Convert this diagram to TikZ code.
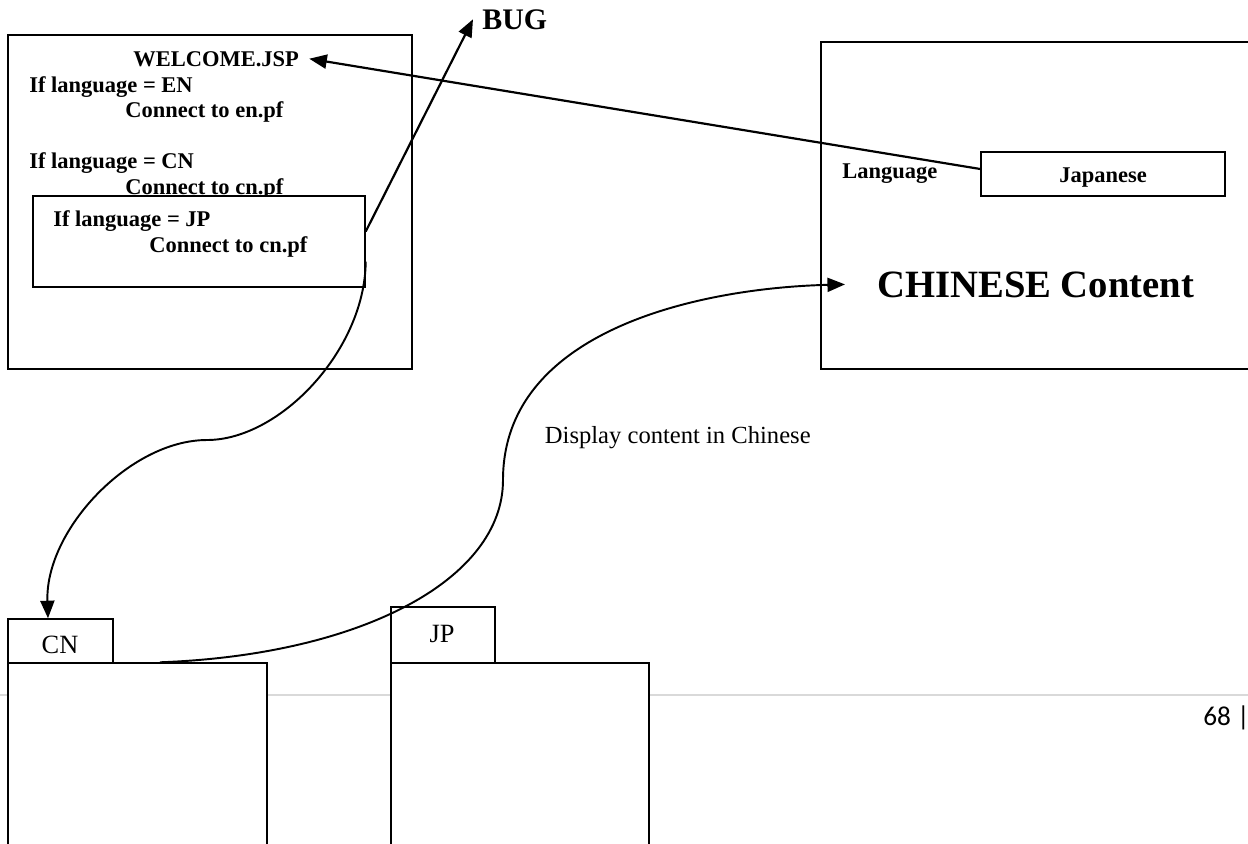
\documentclass[tikz,border=0pt]{standalone}
\usepackage{fontspec}
\setmainfont{Liberation Serif}
\newfontfamily\pagenofont{Carlito}
\usetikzlibrary{arrows.meta}

\tikzset{
  box/.style={draw, line width=0.85pt, fill=white, inner sep=0pt},
  code/.style={font=\fontsize{12.8}{15}\selectfont\bfseries, inner sep=0pt},
  tabtext/.style={font=\fontsize{14}{17}\selectfont, inner sep=0pt},
  conn/.style={line width=1.25pt, -{Triangle[length=10pt,width=8pt]}},
}

\begin{document}
\begin{tikzpicture}[x=0.02cm, y=-0.02cm]
\useasboundingbox (0,0) rectangle (1248,843);
\draw[black!15, line width=1.2pt] (0,695) -- (1248,695);
\node[font=\pagenofont\fontsize{15.5}{18}\selectfont, anchor=base east, inner sep=0pt] (pageno) at (1250,725) {68 |};
\node[box, minimum width=8.08cm, minimum height=6.68cm] (welcome) at (210,202) {};
\node[code, anchor=base west] (title) at (133,66) {WELCOME.JSP};
\node[code, anchor=base west] (ifen) at (29,92) {If language = EN};
\node[code, anchor=base west] (toen) at (125,117) {Connect to en.pf};
\node[code, anchor=base west] (ifcn) at (29,168) {If language = CN};
\node[code, anchor=base west] (tocn) at (125,194) {Connect to cn.pf};
\node[box, minimum width=6.64cm, minimum height=1.82cm] (jpcase) at (199,241.5) {};
\node[code, anchor=base west] (ifjp) at (53,226) {If language = JP};
\node[code, anchor=base west] (tojp) at (149,252) {Connect to cn.pf};
\node[box, minimum width=8.8cm, minimum height=6.54cm] (page) at (1041,205.5) {};
\node[code, anchor=base west] (lang) at (842,178) {Language};
\node[box, minimum width=4.88cm, minimum height=0.88cm] (langbox) at (1103,174) {};
\node[code, anchor=base] (japanese) at (1103,182) {Japanese};
\node[code, font=\fontsize{22}{26}\selectfont\bfseries, anchor=base west] (content) at (877,297) {CHINESE Content};
\node[box, minimum width=2.1cm, minimum height=0.88cm] (cntab) at (60.5,641) {};
\node[box, minimum width=5.18cm, minimum height=4.14cm] (cnpage) at (137.5,766.5) {};
\node[tabtext, font=\fontsize{15}{18}\selectfont, anchor=base] (cnlabel) at (60,653) {CN};
\node[box, minimum width=2.08cm, minimum height=1.12cm] (jptab) at (443,635) {};
\node[box, minimum width=5.16cm, minimum height=4.14cm] (jppage) at (520,766.5) {};
\node[tabtext, font=\fontsize{15}{18}\selectfont, anchor=base] (jplabel) at (442,642) {JP};
\node[code, font=\fontsize{17}{20}\selectfont\bfseries, anchor=base west] (bug) at (482,29) {BUG};
\node[tabtext, anchor=base east] (display) at (811,443) {Display content in Chinese};
\draw[conn] ([yshift=0.1cm]langbox.west) -- ([xshift=0.2cm]title.east);
\draw[conn] ([yshift=0.2cm]jpcase.east) -- ([xshift=-0.18cm]bug.west);
\draw[conn, line width=1.1pt] ([yshift=-0.4cm]jpcase.east) .. controls (365,350) and (280,440) .. (207,440) .. controls (130,440) and (45,530) .. ([xshift=-0.25cm]cntab.north);
\draw[conn, line width=1.1pt] ([xshift=0.45cm]cnpage.north) .. controls (360,655) and (503,580) .. (503,480) .. controls (503,330) and (700,288) .. ([xshift=-0.64cm]content.west);
\end{tikzpicture}
\end{document}
